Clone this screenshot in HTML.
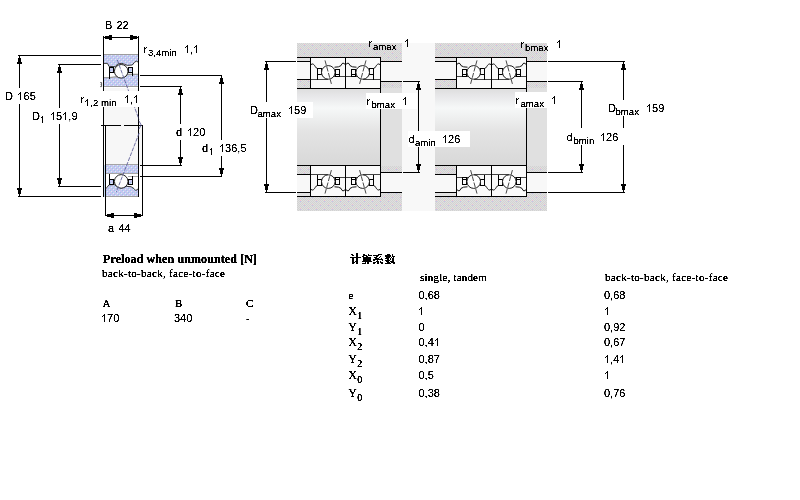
<!DOCTYPE html>
<html><head><meta charset="utf-8">
<style>
html,body{margin:0;padding:0;background:#fff;width:800px;height:500px;overflow:hidden}
svg{position:absolute;left:0;top:0}
.s{font-family:"Liberation Sans",sans-serif;font-size:11px;fill:#000}
.ss{font-family:"Liberation Sans",sans-serif;font-size:9.6px;fill:#000}
.t{font-family:"Liberation Serif",serif;font-size:11px;fill:#000}
.tb{font-family:"Liberation Serif",serif;font-size:12px;font-weight:bold;fill:#000}
</style></head><body>
<svg width="800" height="500" viewBox="0 0 800 500" shape-rendering="crispEdges">
<defs>
<pattern id="blue" width="4" height="4" patternUnits="userSpaceOnUse">
<rect width="4" height="4" fill="#c8c6f0"/><rect x="0" y="0" width="1" height="1" fill="#9cc8ec"/><rect x="2" y="2" width="1" height="1" fill="#9cc8ec"/><rect x="1" y="1" width="1" height="1" fill="#d8f4f4"/><rect x="3" y="3" width="1" height="1" fill="#d8f4f4"/>
</pattern>
<pattern id="gray" width="8" height="8" patternUnits="userSpaceOnUse">
<rect width="8" height="8" fill="#e0e0e0"/><path d="M0 0h1v1h-1zM2 0h1v1h-1zM4 0h1v1h-1zM6 0h1v1h-1zM1 1h1v1h-1zM3 1h1v1h-1zM5 1h1v1h-1zM7 1h1v1h-1zM0 2h1v1h-1zM2 2h1v1h-1zM4 2h1v1h-1zM6 2h1v1h-1zM1 3h1v1h-1zM3 3h1v1h-1zM5 3h1v1h-1zM7 3h1v1h-1zM0 4h1v1h-1zM2 4h1v1h-1zM4 4h1v1h-1zM6 4h1v1h-1zM1 5h1v1h-1zM3 5h1v1h-1zM5 5h1v1h-1zM7 5h1v1h-1zM0 6h1v1h-1zM2 6h1v1h-1zM4 6h1v1h-1zM6 6h1v1h-1zM1 7h1v1h-1zM3 7h1v1h-1zM5 7h1v1h-1zM7 7h1v1h-1z" fill="#d2d2d2"/>
<rect x="4" y="0" width="1" height="1" fill="#eec0c8"/><rect x="4" y="1" width="1" height="1" fill="#c4c4f0"/><rect x="0" y="4" width="1" height="1" fill="#eec0c8"/><rect x="0" y="5" width="1" height="1" fill="#c4c4f0"/>
</pattern>
<linearGradient id="shaft" x1="0" y1="0" x2="0" y2="1">
<stop offset="0" stop-color="#dedede"/><stop offset="0.08" stop-color="#e6e6e8"/><stop offset="0.25" stop-color="#f6f8f8"/><stop offset="0.55" stop-color="#e4e4e4"/><stop offset="1" stop-color="#d8d8d8"/>
</linearGradient>
<filter id="crisp" x="0" y="0" width="100%" height="100%" filterUnits="userSpaceOnUse" color-interpolation-filters="sRGB">
<feComponentTransfer><feFuncA type="linear" slope="3.5" intercept="-0.8"/></feComponentTransfer>
</filter>
<filter id="crisp2" x="0" y="0" width="100%" height="100%" filterUnits="userSpaceOnUse" color-interpolation-filters="sRGB">
<feComponentTransfer><feFuncA type="linear" slope="4" intercept="-0.6"/></feComponentTransfer>
</filter>
</defs>
<rect x="103" y="88" width="36" height="37" fill="#f7f7f7"/>
<rect x="105" y="125" width="38" height="40" fill="#f7f7f7"/>
<rect x="104" y="165" width="1" height="32" fill="#c8dcf0"/>
<rect x="18" y="55" width="83" height="1" fill="#000"/>
<rect x="18" y="196" width="83" height="1" fill="#000"/>
<rect x="19" y="56" width="1" height="140" fill="#000"/>
<path d="M19 56 h1 v2 h1 v4 h1 v2 h-5 v-2 h1 v-4 h1 z" fill="#000"/>
<path d="M19 196 h1 v-2 h1 v-4 h1 v-2 h-5 v2 h1 v4 h1 z" fill="#000"/>
<rect x="58" y="64" width="43" height="1" fill="#000"/>
<rect x="58" y="186" width="43" height="1" fill="#000"/>
<rect x="59" y="65" width="1" height="121" fill="#000"/>
<path d="M59 65 h1 v2 h1 v4 h1 v2 h-5 v-2 h1 v-4 h1 z" fill="#000"/>
<path d="M59 186 h1 v-2 h1 v-4 h1 v-2 h-5 v2 h1 v4 h1 z" fill="#000"/>
<rect x="103" y="36" width="1" height="55" fill="#000"/>
<rect x="138" y="36" width="1" height="55" fill="#000"/>
<rect x="104" y="37" width="34" height="1" fill="#000"/>
<path d="M104 37 h1 v-1 h4 v-1 h3 v5 h-3 v-1 h-4 v-1 h-1 z" fill="#000"/>
<path d="M138 37 h-1 v-1 h-4 v-1 h-3 v5 h3 v-1 h4 v-1 h1 z" fill="#000"/>
<rect x="140" y="75" width="82" height="1" fill="#000"/>
<rect x="140" y="86" width="42" height="1" fill="#000"/>
<rect x="140" y="165" width="42" height="1" fill="#000"/>
<rect x="140" y="176" width="82" height="1" fill="#000"/>
<rect x="180" y="87" width="1" height="78" fill="#000"/>
<rect x="221" y="76" width="1" height="100" fill="#000"/>
<path d="M180 87 h1 v2 h1 v4 h1 v2 h-5 v-2 h1 v-4 h1 z" fill="#000"/>
<path d="M180 165 h1 v-2 h1 v-4 h1 v-2 h-5 v2 h1 v4 h1 z" fill="#000"/>
<path d="M221 76 h1 v2 h1 v4 h1 v2 h-5 v-2 h1 v-4 h1 z" fill="#000"/>
<path d="M221 176 h1 v-2 h1 v-4 h1 v-2 h-5 v2 h1 v4 h1 z" fill="#000"/>
<rect x="103" y="107" width="1" height="90" fill="#000"/>
<rect x="105" y="125" width="1" height="91" fill="#000"/>
<rect x="138" y="107" width="1" height="90" fill="#000"/>
<rect x="142" y="125" width="1" height="91" fill="#000"/>
<rect x="101" y="125" width="20" height="1" fill="#000"/>
<rect x="124" y="125" width="19" height="1" fill="#000"/>
<rect x="106" y="215" width="36" height="1" fill="#000"/>
<path d="M106 215 h1 v-1 h4 v-1 h3 v5 h-3 v-1 h-4 v-1 h-1 z" fill="#000"/>
<path d="M142 215 h-1 v-1 h-4 v-1 h-3 v5 h3 v-1 h4 v-1 h1 z" fill="#000"/>
<polygon points="104,55 138,55 138,62 136.3,61.2 134.5,62.3 132.3,65 127.3,65.4 124.6,64.3 121.9,63.4 117.9,63.9 115.2,66.8 108.9,66.3 107.5,63.4 104,63.4" fill="url(#blue)"/>
<polyline points="104,63.4 107.5,63.4 108.9,66.3 115.2,66.8 117.9,63.9 121.9,63.4 124.6,64.3 127.3,65.4 132.3,65 134.5,62.3 136.3,61.2 138,62" fill="none" stroke="#222" stroke-width="0.9" shape-rendering="auto"/>
<rect x="104" y="54" width="34" height="1" fill="#9c9c9c"/>
<polygon points="104,77.6 109.5,77.6 117,76.6 121.5,77.4 126,75.6 128,74.4 138,74.4 138,87 104,87" fill="url(#blue)"/>
<polyline points="104,77.6 109.5,77.6 117,76.6 121.5,77.4 126,75.6 128,74.4 138,74.4" fill="none" stroke="#9a9a9a" stroke-width="1.2" shape-rendering="auto"/>
<rect x="104" y="86" width="34" height="1" fill="#9c9c9c"/>
<path d="M109.5 72 V78.5 M132.5 72 V75.5" stroke="#000" fill="none"/>
<rect x="109.5" y="67.5" width="4" height="5" fill="url(#blue)" stroke="#000"/>
<rect x="128.5" y="67.5" width="4" height="5" fill="url(#blue)" stroke="#000"/>
<circle cx="121.2" cy="71.3" r="6.8" fill="#fcfcfc" stroke="#222" stroke-width="1" shape-rendering="auto"/>
<rect x="106" y="165" width="32" height="9" fill="url(#blue)"/>
<rect x="106" y="164" width="32" height="1" fill="#a4a4a4"/>
<rect x="106" y="173" width="32" height="1" fill="#a4a4a4"/>
<polygon points="106,188.6 109,184.8 114.4,184.6 117,186.5 121.2,188.2 126.5,186.3 131,186.7 134,188.6 135.7,190.5 138,189 138,196 106,196" fill="url(#blue)"/>
<polyline points="106,188.6 109,184.8 114.4,184.6 117,186.5 121.2,188.2 126.5,186.3 131,186.7 134,188.6 135.7,190.5 138,189" fill="none" stroke="#222" stroke-width="0.9" shape-rendering="auto"/>
<rect x="106" y="196" width="32" height="1" fill="#9c9c9c"/>
<rect x="128" y="176" width="10" height="1" fill="#a8a8a8"/>
<path d="M109.5 174 V180 M132.5 176 V179.5" stroke="#000" fill="none"/>
<rect x="109.5" y="179.5" width="4" height="5" fill="url(#blue)" stroke="#000"/>
<rect x="128.5" y="179.5" width="4" height="5" fill="url(#blue)" stroke="#000"/>
<circle cx="121.2" cy="181.4" r="6.8" fill="#fcfcfc" stroke="#222" stroke-width="1" shape-rendering="auto"/>
<path d="M100.2 82.6 H101.6 V84.6 H100.6 M101.6 84.6 V86.6 H100.2" stroke="#333" stroke-width="0.8" fill="none" shape-rendering="auto"/>
<path d="M117.3 60 L139 119.5 M139.2 133 L116.3 192" stroke="#606098" stroke-width="0.9" stroke-dasharray="4 1.2" fill="none" shape-rendering="auto"/>
<path d="M139 121 L141.2 125 L139 129" stroke="#606098" stroke-width="0.9" fill="none" shape-rendering="auto"/>
<rect x="3" y="88" width="34" height="16" fill="#fff"/>
<rect x="31" y="108" width="48" height="16" fill="#fff"/>
<rect x="79" y="91" width="62" height="16" fill="#fff"/>
<rect x="172" y="124" width="36" height="16" fill="#fff"/>
<rect x="200" y="140" width="49" height="16" fill="#fff"/>
<rect x="297" y="43" width="250" height="168" fill="#f8f8f8"/>
<rect x="297" y="43" width="105" height="14" fill="url(#gray)"/>
<rect x="297" y="197" width="105" height="14" fill="url(#gray)"/>
<rect x="297" y="89" width="83" height="76" fill="url(#shaft)"/>
<rect x="297" y="58" width="13" height="3" fill="#e2e2e2"/>
<rect x="297" y="80" width="13" height="8" fill="url(#gray)"/>
<rect x="297" y="61" width="13" height="1" fill="#000"/>
<rect x="297" y="79" width="13" height="1" fill="#000"/>
<rect x="297" y="193" width="13" height="3" fill="#e2e2e2"/>
<rect x="297" y="166" width="13" height="8" fill="url(#gray)"/>
<rect x="297" y="192" width="13" height="1" fill="#000"/>
<rect x="297" y="174" width="13" height="1" fill="#000"/>
<rect x="381" y="57" width="21" height="4" fill="url(#gray)"/>
<rect x="381" y="82" width="21" height="90" fill="#e0e0e0"/>
<rect x="381" y="82" width="21" height="6" fill="url(#gray)"/>
<rect x="381" y="166" width="21" height="6" fill="url(#gray)"/>
<rect x="381" y="61" width="21" height="1" fill="#000"/>
<rect x="381" y="81" width="21" height="1" fill="#000"/>
<rect x="381" y="193" width="21" height="4" fill="url(#gray)"/>
<rect x="381" y="192" width="21" height="1" fill="#000"/>
<rect x="381" y="172" width="21" height="1" fill="#000"/>
<rect x="310" y="57" width="71" height="32" fill="#fafafa"/>
<rect x="310" y="165" width="71" height="32" fill="#fafafa"/>
<rect x="297" y="57" width="84" height="1" fill="#000"/>
<rect x="297" y="88" width="84" height="1" fill="#000"/>
<rect x="297" y="196" width="84" height="1" fill="#000"/>
<rect x="297" y="165" width="84" height="1" fill="#000"/>
<rect x="380" y="57" width="1" height="140" fill="#000"/>
<rect x="310" y="57" width="1" height="32" fill="#000"/>
<rect x="310" y="165" width="1" height="32" fill="#000"/>
<rect x="435" y="43" width="112" height="14" fill="url(#gray)"/>
<rect x="435" y="197" width="112" height="14" fill="url(#gray)"/>
<rect x="435" y="89" width="91" height="76" fill="url(#shaft)"/>
<rect x="435" y="58" width="21" height="3" fill="#e2e2e2"/>
<rect x="435" y="80" width="21" height="8" fill="url(#gray)"/>
<rect x="435" y="61" width="21" height="1" fill="#000"/>
<rect x="435" y="79" width="21" height="1" fill="#000"/>
<rect x="435" y="193" width="21" height="3" fill="#e2e2e2"/>
<rect x="435" y="166" width="21" height="8" fill="url(#gray)"/>
<rect x="435" y="192" width="21" height="1" fill="#000"/>
<rect x="435" y="174" width="21" height="1" fill="#000"/>
<rect x="527" y="57" width="20" height="4" fill="url(#gray)"/>
<rect x="527" y="82" width="20" height="90" fill="#e0e0e0"/>
<rect x="527" y="82" width="20" height="6" fill="url(#gray)"/>
<rect x="527" y="166" width="20" height="6" fill="url(#gray)"/>
<rect x="527" y="61" width="20" height="1" fill="#000"/>
<rect x="527" y="81" width="20" height="1" fill="#000"/>
<rect x="527" y="193" width="20" height="4" fill="url(#gray)"/>
<rect x="527" y="192" width="20" height="1" fill="#000"/>
<rect x="527" y="172" width="20" height="1" fill="#000"/>
<rect x="456" y="57" width="71" height="32" fill="#fafafa"/>
<rect x="456" y="165" width="71" height="32" fill="#fafafa"/>
<rect x="435" y="57" width="92" height="1" fill="#000"/>
<rect x="435" y="88" width="92" height="1" fill="#000"/>
<rect x="435" y="196" width="92" height="1" fill="#000"/>
<rect x="435" y="165" width="92" height="1" fill="#000"/>
<rect x="526" y="57" width="1" height="140" fill="#000"/>
<rect x="456" y="57" width="1" height="32" fill="#000"/>
<rect x="456" y="165" width="1" height="32" fill="#000"/>
<g transform="translate(310,57)"><path d="M0.5 0.5 V31.5 M0.5 0.5 H35.5 M0.5 31.5 H35.5" stroke="#000" fill="none"/><path d="M1 7.6 Q2.2 6.4 3.4 7.3 Q4.6 8.2 5.3 9.6 Q6.2 11.3 7.5 11.5 H12.3" stroke="#111" fill="none" shape-rendering="auto"/><path d="M24.5 10.2 Q29 10.3 31 8.6 Q32 6 33 6.1 Q34 6.3 35 7.3" stroke="#111" fill="none" shape-rendering="auto"/><path d="M1 22.5 H18 M22 19.5 H35" stroke="#444" fill="none"/><path d="M7.5 11.5 H11.5 V17.5 H7.5 Z M7.5 17.5 V22.5" stroke="#000" fill="none"/><path d="M25.5 12.5 H29.5 V19.5 H25.5 Z M25.5 17.5 H29.5" stroke="#000" fill="none"/><circle cx="18.3" cy="15.4" r="6.8" fill="#fff" stroke="#1a1a1a" shape-rendering="auto"/><path d="M15 3.4 L21.4 26.9" stroke="#333" stroke-width="0.9" stroke-dasharray="5 1.5" fill="none" shape-rendering="auto"/></g>
<g transform="translate(381,57) scale(-1,1)"><path d="M0.5 0.5 V31.5 M0.5 0.5 H35.5 M0.5 31.5 H35.5" stroke="#000" fill="none"/><path d="M1 7.6 Q2.2 6.4 3.4 7.3 Q4.6 8.2 5.3 9.6 Q6.2 11.3 7.5 11.5 H12.3" stroke="#111" fill="none" shape-rendering="auto"/><path d="M24.5 10.2 Q29 10.3 31 8.6 Q32 6 33 6.1 Q34 6.3 35 7.3" stroke="#111" fill="none" shape-rendering="auto"/><path d="M1 22.5 H18 M22 19.5 H35" stroke="#444" fill="none"/><path d="M7.5 11.5 H11.5 V17.5 H7.5 Z M7.5 17.5 V22.5" stroke="#000" fill="none"/><path d="M25.5 12.5 H29.5 V19.5 H25.5 Z M25.5 17.5 H29.5" stroke="#000" fill="none"/><circle cx="18.3" cy="15.4" r="6.8" fill="#fff" stroke="#1a1a1a" shape-rendering="auto"/><path d="M15 3.4 L21.4 26.9" stroke="#333" stroke-width="0.9" stroke-dasharray="5 1.5" fill="none" shape-rendering="auto"/></g>
<g transform="translate(310,197) scale(1,-1)"><path d="M0.5 0.5 V31.5 M0.5 0.5 H35.5 M0.5 31.5 H35.5" stroke="#000" fill="none"/><path d="M1 7.6 Q2.2 6.4 3.4 7.3 Q4.6 8.2 5.3 9.6 Q6.2 11.3 7.5 11.5 H12.3" stroke="#111" fill="none" shape-rendering="auto"/><path d="M24.5 10.2 Q29 10.3 31 8.6 Q32 6 33 6.1 Q34 6.3 35 7.3" stroke="#111" fill="none" shape-rendering="auto"/><path d="M1 22.5 H18 M22 19.5 H35" stroke="#444" fill="none"/><path d="M7.5 11.5 H11.5 V17.5 H7.5 Z M7.5 17.5 V22.5" stroke="#000" fill="none"/><path d="M25.5 12.5 H29.5 V19.5 H25.5 Z M25.5 17.5 H29.5" stroke="#000" fill="none"/><circle cx="18.3" cy="15.4" r="6.8" fill="#fff" stroke="#1a1a1a" shape-rendering="auto"/><path d="M15 3.4 L21.4 26.9" stroke="#333" stroke-width="0.9" stroke-dasharray="5 1.5" fill="none" shape-rendering="auto"/></g>
<g transform="translate(381,197) scale(-1,-1)"><path d="M0.5 0.5 V31.5 M0.5 0.5 H35.5 M0.5 31.5 H35.5" stroke="#000" fill="none"/><path d="M1 7.6 Q2.2 6.4 3.4 7.3 Q4.6 8.2 5.3 9.6 Q6.2 11.3 7.5 11.5 H12.3" stroke="#111" fill="none" shape-rendering="auto"/><path d="M24.5 10.2 Q29 10.3 31 8.6 Q32 6 33 6.1 Q34 6.3 35 7.3" stroke="#111" fill="none" shape-rendering="auto"/><path d="M1 22.5 H18 M22 19.5 H35" stroke="#444" fill="none"/><path d="M7.5 11.5 H11.5 V17.5 H7.5 Z M7.5 17.5 V22.5" stroke="#000" fill="none"/><path d="M25.5 12.5 H29.5 V19.5 H25.5 Z M25.5 17.5 H29.5" stroke="#000" fill="none"/><circle cx="18.3" cy="15.4" r="6.8" fill="#fff" stroke="#1a1a1a" shape-rendering="auto"/><path d="M15 3.4 L21.4 26.9" stroke="#333" stroke-width="0.9" stroke-dasharray="5 1.5" fill="none" shape-rendering="auto"/></g>
<g transform="translate(492,57) scale(-1,1)"><path d="M0.5 0.5 V31.5 M0.5 0.5 H35.5 M0.5 31.5 H35.5" stroke="#000" fill="none"/><path d="M1 7.6 Q2.2 6.4 3.4 7.3 Q4.6 8.2 5.3 9.6 Q6.2 11.3 7.5 11.5 H12.3" stroke="#111" fill="none" shape-rendering="auto"/><path d="M24.5 10.2 Q29 10.3 31 8.6 Q32 6 33 6.1 Q34 6.3 35 7.3" stroke="#111" fill="none" shape-rendering="auto"/><path d="M1 22.5 H18 M22 19.5 H35" stroke="#444" fill="none"/><path d="M7.5 11.5 H11.5 V17.5 H7.5 Z M7.5 17.5 V22.5" stroke="#000" fill="none"/><path d="M25.5 12.5 H29.5 V19.5 H25.5 Z M25.5 17.5 H29.5" stroke="#000" fill="none"/><circle cx="18.3" cy="15.4" r="6.8" fill="#fff" stroke="#1a1a1a" shape-rendering="auto"/><path d="M15 3.4 L21.4 26.9" stroke="#333" stroke-width="0.9" stroke-dasharray="5 1.5" fill="none" shape-rendering="auto"/></g>
<g transform="translate(491,57)"><path d="M0.5 0.5 V31.5 M0.5 0.5 H35.5 M0.5 31.5 H35.5" stroke="#000" fill="none"/><path d="M1 7.6 Q2.2 6.4 3.4 7.3 Q4.6 8.2 5.3 9.6 Q6.2 11.3 7.5 11.5 H12.3" stroke="#111" fill="none" shape-rendering="auto"/><path d="M24.5 10.2 Q29 10.3 31 8.6 Q32 6 33 6.1 Q34 6.3 35 7.3" stroke="#111" fill="none" shape-rendering="auto"/><path d="M1 22.5 H18 M22 19.5 H35" stroke="#444" fill="none"/><path d="M7.5 11.5 H11.5 V17.5 H7.5 Z M7.5 17.5 V22.5" stroke="#000" fill="none"/><path d="M25.5 12.5 H29.5 V19.5 H25.5 Z M25.5 17.5 H29.5" stroke="#000" fill="none"/><circle cx="18.3" cy="15.4" r="6.8" fill="#fff" stroke="#1a1a1a" shape-rendering="auto"/><path d="M15 3.4 L21.4 26.9" stroke="#333" stroke-width="0.9" stroke-dasharray="5 1.5" fill="none" shape-rendering="auto"/></g>
<g transform="translate(492,197) scale(-1,-1)"><path d="M0.5 0.5 V31.5 M0.5 0.5 H35.5 M0.5 31.5 H35.5" stroke="#000" fill="none"/><path d="M1 7.6 Q2.2 6.4 3.4 7.3 Q4.6 8.2 5.3 9.6 Q6.2 11.3 7.5 11.5 H12.3" stroke="#111" fill="none" shape-rendering="auto"/><path d="M24.5 10.2 Q29 10.3 31 8.6 Q32 6 33 6.1 Q34 6.3 35 7.3" stroke="#111" fill="none" shape-rendering="auto"/><path d="M1 22.5 H18 M22 19.5 H35" stroke="#444" fill="none"/><path d="M7.5 11.5 H11.5 V17.5 H7.5 Z M7.5 17.5 V22.5" stroke="#000" fill="none"/><path d="M25.5 12.5 H29.5 V19.5 H25.5 Z M25.5 17.5 H29.5" stroke="#000" fill="none"/><circle cx="18.3" cy="15.4" r="6.8" fill="#fff" stroke="#1a1a1a" shape-rendering="auto"/><path d="M15 3.4 L21.4 26.9" stroke="#333" stroke-width="0.9" stroke-dasharray="5 1.5" fill="none" shape-rendering="auto"/></g>
<g transform="translate(491,197) scale(1,-1)"><path d="M0.5 0.5 V31.5 M0.5 0.5 H35.5 M0.5 31.5 H35.5" stroke="#000" fill="none"/><path d="M1 7.6 Q2.2 6.4 3.4 7.3 Q4.6 8.2 5.3 9.6 Q6.2 11.3 7.5 11.5 H12.3" stroke="#111" fill="none" shape-rendering="auto"/><path d="M24.5 10.2 Q29 10.3 31 8.6 Q32 6 33 6.1 Q34 6.3 35 7.3" stroke="#111" fill="none" shape-rendering="auto"/><path d="M1 22.5 H18 M22 19.5 H35" stroke="#444" fill="none"/><path d="M7.5 11.5 H11.5 V17.5 H7.5 Z M7.5 17.5 V22.5" stroke="#000" fill="none"/><path d="M25.5 12.5 H29.5 V19.5 H25.5 Z M25.5 17.5 H29.5" stroke="#000" fill="none"/><circle cx="18.3" cy="15.4" r="6.8" fill="#fff" stroke="#1a1a1a" shape-rendering="auto"/><path d="M15 3.4 L21.4 26.9" stroke="#333" stroke-width="0.9" stroke-dasharray="5 1.5" fill="none" shape-rendering="auto"/></g>
<rect x="345" y="57" width="1" height="32" fill="#000"/>
<rect x="345" y="165" width="1" height="32" fill="#000"/>
<rect x="491" y="57" width="1" height="32" fill="#000"/>
<rect x="491" y="165" width="1" height="32" fill="#000"/>
<rect x="265" y="61" width="31" height="1" fill="#000"/>
<rect x="265" y="192" width="31" height="1" fill="#000"/>
<rect x="266" y="62" width="1" height="130" fill="#000"/>
<path d="M266 62 h1 v2 h1 v4 h1 v2 h-5 v-2 h1 v-4 h1 z" fill="#000"/>
<path d="M266 192 h1 v-2 h1 v-4 h1 v-2 h-5 v2 h1 v4 h1 z" fill="#000"/>
<rect x="403" y="81" width="17" height="1" fill="#000"/>
<rect x="403" y="172" width="17" height="1" fill="#000"/>
<rect x="418" y="82" width="1" height="90" fill="#000"/>
<path d="M418 82 h1 v2 h1 v4 h1 v2 h-5 v-2 h1 v-4 h1 z" fill="#000"/>
<path d="M418 172 h1 v-2 h1 v-4 h1 v-2 h-5 v2 h1 v4 h1 z" fill="#000"/>
<rect x="548" y="61" width="77" height="1" fill="#000"/>
<rect x="548" y="192" width="77" height="1" fill="#000"/>
<rect x="623" y="62" width="1" height="130" fill="#000"/>
<path d="M623 62 h1 v2 h1 v4 h1 v2 h-5 v-2 h1 v-4 h1 z" fill="#000"/>
<path d="M623 192 h1 v-2 h1 v-4 h1 v-2 h-5 v2 h1 v4 h1 z" fill="#000"/>
<rect x="548" y="81" width="35" height="1" fill="#000"/>
<rect x="548" y="172" width="35" height="1" fill="#000"/>
<rect x="581" y="82" width="1" height="90" fill="#000"/>
<path d="M581 82 h1 v2 h1 v4 h1 v2 h-5 v-2 h1 v-4 h1 z" fill="#000"/>
<path d="M581 172 h1 v-2 h1 v-4 h1 v-2 h-5 v2 h1 v4 h1 z" fill="#000"/>
<rect x="366" y="93" width="51" height="16" fill="#fff"/>
<rect x="249" y="102" width="64" height="16" fill="#fff"/>
<rect x="408" y="131" width="62" height="16" fill="#fff"/>
<rect x="515" y="92" width="45" height="16" fill="#fff"/>
<rect x="606" y="100" width="62" height="16" fill="#fff"/>
<rect x="565" y="128" width="60" height="17" fill="#fff"/>
<rect x="356" y="253" width="2" height="1" fill="#000"/>
<rect x="351" y="254" width="2" height="1" fill="#000"/>
<rect x="356" y="254" width="2" height="1" fill="#000"/>
<rect x="352" y="255" width="2" height="1" fill="#000"/>
<rect x="356" y="255" width="2" height="1" fill="#000"/>
<rect x="356" y="256" width="2" height="1" fill="#000"/>
<rect x="350" y="257" width="11" height="1" fill="#000"/>
<rect x="352" y="258" width="2" height="1" fill="#000"/>
<rect x="356" y="258" width="2" height="1" fill="#000"/>
<rect x="352" y="259" width="2" height="1" fill="#000"/>
<rect x="356" y="259" width="2" height="1" fill="#000"/>
<rect x="352" y="260" width="2" height="1" fill="#000"/>
<rect x="356" y="260" width="2" height="1" fill="#000"/>
<rect x="352" y="261" width="2" height="1" fill="#000"/>
<rect x="355" y="261" width="3" height="1" fill="#000"/>
<rect x="352" y="262" width="3" height="1" fill="#000"/>
<rect x="356" y="262" width="2" height="1" fill="#000"/>
<rect x="352" y="263" width="2" height="1" fill="#000"/>
<rect x="356" y="263" width="2" height="1" fill="#000"/>
<rect x="363" y="254" width="2" height="1" fill="#000"/>
<rect x="368" y="254" width="1" height="1" fill="#000"/>
<rect x="363" y="255" width="4" height="1" fill="#000"/>
<rect x="368" y="255" width="4" height="1" fill="#000"/>
<rect x="362" y="256" width="2" height="1" fill="#000"/>
<rect x="366" y="256" width="2" height="1" fill="#000"/>
<rect x="363" y="257" width="8" height="1" fill="#000"/>
<rect x="363" y="258" width="8" height="1" fill="#000"/>
<rect x="363" y="259" width="8" height="1" fill="#000"/>
<rect x="363" y="260" width="8" height="1" fill="#000"/>
<rect x="362" y="261" width="10" height="1" fill="#000"/>
<rect x="365" y="262" width="1" height="1" fill="#000"/>
<rect x="367" y="262" width="2" height="1" fill="#000"/>
<rect x="362" y="263" width="4" height="1" fill="#000"/>
<rect x="367" y="263" width="2" height="1" fill="#000"/>
<rect x="378" y="254" width="4" height="1" fill="#000"/>
<rect x="373" y="255" width="6" height="1" fill="#000"/>
<rect x="376" y="256" width="2" height="1" fill="#000"/>
<rect x="380" y="256" width="1" height="1" fill="#000"/>
<rect x="374" y="257" width="3" height="1" fill="#000"/>
<rect x="379" y="257" width="1" height="1" fill="#000"/>
<rect x="375" y="258" width="4" height="1" fill="#000"/>
<rect x="381" y="258" width="1" height="1" fill="#000"/>
<rect x="373" y="259" width="10" height="1" fill="#000"/>
<rect x="373" y="260" width="2" height="1" fill="#000"/>
<rect x="377" y="260" width="1" height="1" fill="#000"/>
<rect x="382" y="260" width="1" height="1" fill="#000"/>
<rect x="376" y="261" width="3" height="1" fill="#000"/>
<rect x="380" y="261" width="1" height="1" fill="#000"/>
<rect x="373" y="262" width="3" height="1" fill="#000"/>
<rect x="377" y="262" width="2" height="1" fill="#000"/>
<rect x="380" y="262" width="3" height="1" fill="#000"/>
<rect x="373" y="263" width="2" height="1" fill="#000"/>
<rect x="377" y="263" width="2" height="1" fill="#000"/>
<rect x="381" y="263" width="2" height="1" fill="#000"/>
<rect x="387" y="254" width="3" height="1" fill="#000"/>
<rect x="392" y="254" width="1" height="1" fill="#000"/>
<rect x="385" y="255" width="6" height="1" fill="#000"/>
<rect x="392" y="255" width="1" height="1" fill="#000"/>
<rect x="385" y="256" width="6" height="1" fill="#000"/>
<rect x="392" y="256" width="3" height="1" fill="#000"/>
<rect x="386" y="257" width="4" height="1" fill="#000"/>
<rect x="391" y="257" width="1" height="1" fill="#000"/>
<rect x="393" y="257" width="1" height="1" fill="#000"/>
<rect x="385" y="258" width="4" height="1" fill="#000"/>
<rect x="390" y="258" width="1" height="1" fill="#000"/>
<rect x="392" y="258" width="2" height="1" fill="#000"/>
<rect x="387" y="259" width="2" height="1" fill="#000"/>
<rect x="390" y="259" width="1" height="1" fill="#000"/>
<rect x="392" y="259" width="2" height="1" fill="#000"/>
<rect x="385" y="260" width="5" height="1" fill="#000"/>
<rect x="392" y="260" width="2" height="1" fill="#000"/>
<rect x="386" y="261" width="3" height="1" fill="#000"/>
<rect x="390" y="261" width="4" height="1" fill="#000"/>
<rect x="387" y="262" width="3" height="1" fill="#000"/>
<rect x="391" y="262" width="4" height="1" fill="#000"/>
<rect x="385" y="263" width="6" height="1" fill="#000"/>
<rect x="393" y="263" width="2" height="1" fill="#000"/>
<g filter="url(#crisp)"><text x="105" y="29" class="s">B</text>
<text x="116.5" y="29" class="s">22</text>
<text x="148" y="56" class="ss">3,4min</text>
<text id="t1_0" x="184" y="53" class="s">&#x2007;,&#x2007;</text>
<text x="5" y="100" class="s">D</text>
<text id="t1_1" x="17.5" y="100" class="s">&#x2007;65</text>
<text x="32" y="120" class="s">D</text>
<text id="t1_2" x="39" y="123" class="s">&#x2007;</text>
<text id="t1_3" x="50" y="120" class="s">&#x2007;5&#x2007;,9</text>
<text id="t1_4" x="85" y="106" class="ss">&#x2007;,2 min</text>
<text id="t1_5" x="124" y="103" class="s">&#x2007;,&#x2007;</text>
<text x="176" y="136" class="s">d</text>
<text id="t1_6" x="187" y="136" class="s">&#x2007;20</text>
<text x="202" y="152" class="s">d</text>
<text id="t1_7" x="207.8" y="154.5" class="s">&#x2007;</text>
<text id="t1_8" x="219" y="152" class="s">&#x2007;36,5</text>
<text x="108" y="232" class="s">a</text>
<text x="118.5" y="232" class="s">44</text>
<text x="373" y="49.6" class="ss">amax</text>
<text id="t1_9" x="404" y="46.6" class="s">&#x2007;</text>
<text x="371.5" y="108" class="ss">bmax</text>
<text id="t1_10" x="402" y="104.5" class="s">&#x2007;</text>
<text x="250" y="113.5" class="s">D</text>
<text x="257.5" y="116.5" class="ss">amax</text>
<text id="t1_11" x="288" y="114" class="s">&#x2007;59</text>
<text x="408.5" y="142.5" class="s">d</text>
<text x="415" y="146" class="ss">amin</text>
<text id="t1_12" x="442" y="142.5" class="s">&#x2007;26</text>
<text x="525" y="50.8" class="ss">bmax</text>
<text id="t1_13" x="556" y="47.7" class="s">&#x2007;</text>
<text x="520.5" y="106.6" class="ss">amax</text>
<text id="t1_14" x="551" y="103.5" class="s">&#x2007;</text>
<text x="608" y="111.5" class="s">D</text>
<text x="615.5" y="114.5" class="ss">bmax</text>
<text id="t1_15" x="646" y="112" class="s">&#x2007;59</text>
<text x="566.5" y="141" class="s">d</text>
<text x="573.5" y="144" class="ss">bmin</text>
<text id="t1_16" x="600" y="141" class="s">&#x2007;26</text>
<text id="t1_17" x="101" y="322" class="s">&#x2007;70</text>
<text x="174" y="322" class="s">340</text>
<text x="246" y="322" class="s">-</text>
<text x="418.5" y="299.3" class="s">0,68</text>
<text x="604" y="299.3" class="s">0,68</text>
<text id="t1_18" x="418.5" y="315.3" class="s">&#x2007;</text>
<text id="t1_19" x="604" y="315.3" class="s">&#x2007;</text>
<text x="418.5" y="331.3" class="s">0</text>
<text x="604" y="331.3" class="s">0,92</text>
<text id="t1_20" x="418.5" y="346.3" class="s">0,4&#x2007;</text>
<text x="604" y="346.3" class="s">0,67</text>
<text x="418.5" y="363.3" class="s">0,87</text>
<text id="t1_21" x="604" y="363.3" class="s">&#x2007;,4&#x2007;</text>
<text x="418.5" y="379.3" class="s">0,5</text>
<text id="t1_22" x="604" y="379.3" class="s">&#x2007;</text>
<text x="418.5" y="397.3" class="s">0,38</text>
<text x="604" y="397.3" class="s">0,76</text></g>
<g filter="url(#crisp2)"><text x="103" y="263.3" class="tb" letter-spacing="0.1">Preload when unmounted [N]</text>
<text x="102" y="276.7" class="t" letter-spacing="0.3">back-to-back, face-to-face</text>
<text x="102.5" y="306.6" class="t">A</text>
<text x="175" y="306.6" class="t">B</text>
<text x="246" y="306.6" class="t">C</text>
<text x="420" y="281" class="t" letter-spacing="0.2">single, tandem</text>
<text x="605" y="280.8" class="t" letter-spacing="0.3">back-to-back, face-to-face</text>
<text x="348.5" y="299.30" class="t">e</text>
<text x="348.3" y="315.30" class="t" style="font-size:12px">X</text>
<text x="357.3" y="319.10" class="t" style="font-size:10px">1</text>
<text x="348.3" y="331.30" class="t" style="font-size:12px">Y</text>
<text x="357.3" y="335.10" class="t" style="font-size:10px">1</text>
<text x="348.3" y="346.30" class="t" style="font-size:12px">X</text>
<text x="357.3" y="350.10" class="t" style="font-size:10px">2</text>
<text x="348.3" y="363.30" class="t" style="font-size:12px">Y</text>
<text x="357.3" y="367.10" class="t" style="font-size:10px">2</text>
<text x="348.3" y="379.30" class="t" style="font-size:12px">X</text>
<text x="357.3" y="383.10" class="t" style="font-size:10px">0</text>
<text x="348.3" y="397.30" class="t" style="font-size:12px">Y</text>
<text x="357.3" y="401.10" class="t" style="font-size:10px">0</text></g>
<rect x="187" y="45" width="1" height="8" fill="#000"/><rect x="186" y="46" width="1" height="1" fill="#000"/><rect x="185" y="47" width="1" height="1" fill="#000"/>
<rect x="196" y="45" width="1" height="8" fill="#000"/><rect x="195" y="46" width="1" height="1" fill="#000"/><rect x="194" y="47" width="1" height="1" fill="#000"/>
<rect x="20" y="92" width="1" height="8" fill="#000"/><rect x="19" y="93" width="1" height="1" fill="#000"/><rect x="18" y="94" width="1" height="1" fill="#000"/>
<rect x="42" y="116" width="1" height="7" fill="#000"/><rect x="41" y="117" width="1" height="1" fill="#000"/>
<rect x="53" y="112" width="1" height="8" fill="#000"/><rect x="52" y="113" width="1" height="1" fill="#000"/><rect x="51" y="114" width="1" height="1" fill="#000"/>
<rect x="65" y="112" width="1" height="8" fill="#000"/><rect x="64" y="113" width="1" height="1" fill="#000"/><rect x="63" y="114" width="1" height="1" fill="#000"/>
<rect x="87" y="99" width="1" height="7" fill="#000"/><rect x="86" y="100" width="1" height="1" fill="#000"/><rect x="85" y="101" width="1" height="1" fill="#000"/>
<rect x="127" y="95" width="1" height="8" fill="#000"/><rect x="126" y="96" width="1" height="1" fill="#000"/><rect x="125" y="97" width="1" height="1" fill="#000"/>
<rect x="136" y="95" width="1" height="8" fill="#000"/><rect x="135" y="96" width="1" height="1" fill="#000"/><rect x="134" y="97" width="1" height="1" fill="#000"/>
<rect x="190" y="128" width="1" height="8" fill="#000"/><rect x="189" y="129" width="1" height="1" fill="#000"/><rect x="188" y="130" width="1" height="1" fill="#000"/>
<rect x="211" y="148" width="1" height="7" fill="#000"/><rect x="210" y="149" width="1" height="1" fill="#000"/>
<rect x="222" y="144" width="1" height="8" fill="#000"/><rect x="221" y="145" width="1" height="1" fill="#000"/><rect x="220" y="146" width="1" height="1" fill="#000"/>
<rect x="407" y="39" width="1" height="8" fill="#000"/><rect x="406" y="40" width="1" height="1" fill="#000"/><rect x="405" y="41" width="1" height="1" fill="#000"/>
<rect x="405" y="97" width="1" height="8" fill="#000"/><rect x="404" y="98" width="1" height="1" fill="#000"/><rect x="403" y="99" width="1" height="1" fill="#000"/>
<rect x="291" y="106" width="1" height="8" fill="#000"/><rect x="290" y="107" width="1" height="1" fill="#000"/><rect x="289" y="108" width="1" height="1" fill="#000"/>
<rect x="445" y="135" width="1" height="8" fill="#000"/><rect x="444" y="136" width="1" height="1" fill="#000"/><rect x="443" y="137" width="1" height="1" fill="#000"/>
<rect x="559" y="40" width="1" height="8" fill="#000"/><rect x="558" y="41" width="1" height="1" fill="#000"/><rect x="557" y="42" width="1" height="1" fill="#000"/>
<rect x="554" y="96" width="1" height="8" fill="#000"/><rect x="553" y="97" width="1" height="1" fill="#000"/><rect x="552" y="98" width="1" height="1" fill="#000"/>
<rect x="649" y="104" width="1" height="8" fill="#000"/><rect x="648" y="105" width="1" height="1" fill="#000"/><rect x="647" y="106" width="1" height="1" fill="#000"/>
<rect x="603" y="133" width="1" height="8" fill="#000"/><rect x="602" y="134" width="1" height="1" fill="#000"/><rect x="601" y="135" width="1" height="1" fill="#000"/>
<rect x="104" y="314" width="1" height="8" fill="#000"/><rect x="103" y="315" width="1" height="1" fill="#000"/><rect x="102" y="316" width="1" height="1" fill="#000"/>
<rect x="421" y="307" width="1" height="8" fill="#000"/><rect x="420" y="308" width="1" height="1" fill="#000"/><rect x="419" y="309" width="1" height="1" fill="#000"/>
<rect x="607" y="307" width="1" height="8" fill="#000"/><rect x="606" y="308" width="1" height="1" fill="#000"/><rect x="605" y="309" width="1" height="1" fill="#000"/>
<rect x="437" y="338" width="1" height="8" fill="#000"/><rect x="436" y="339" width="1" height="1" fill="#000"/><rect x="435" y="340" width="1" height="1" fill="#000"/>
<rect x="607" y="355" width="1" height="8" fill="#000"/><rect x="606" y="356" width="1" height="1" fill="#000"/><rect x="605" y="357" width="1" height="1" fill="#000"/>
<rect x="622" y="355" width="1" height="8" fill="#000"/><rect x="621" y="356" width="1" height="1" fill="#000"/><rect x="620" y="357" width="1" height="1" fill="#000"/>
<rect x="607" y="371" width="1" height="8" fill="#000"/><rect x="606" y="372" width="1" height="1" fill="#000"/><rect x="605" y="373" width="1" height="1" fill="#000"/><rect x="144" y="47" width="1" height="6" fill="#000"/><rect x="145" y="48" width="1" height="1" fill="#000"/><rect x="146" y="47" width="1" height="1" fill="#000"/>
<rect x="81" y="97" width="1" height="6" fill="#000"/><rect x="82" y="98" width="1" height="1" fill="#000"/><rect x="83" y="97" width="1" height="1" fill="#000"/>
<rect x="369" y="41" width="1" height="6" fill="#000"/><rect x="370" y="42" width="1" height="1" fill="#000"/><rect x="371" y="41" width="1" height="1" fill="#000"/>
<rect x="367" y="99" width="1" height="6" fill="#000"/><rect x="368" y="100" width="1" height="1" fill="#000"/><rect x="369" y="99" width="1" height="1" fill="#000"/>
<rect x="521" y="42" width="1" height="6" fill="#000"/><rect x="522" y="43" width="1" height="1" fill="#000"/><rect x="523" y="42" width="1" height="1" fill="#000"/>
<rect x="516" y="98" width="1" height="6" fill="#000"/><rect x="517" y="99" width="1" height="1" fill="#000"/><rect x="518" y="98" width="1" height="1" fill="#000"/>
</svg>
</body></html>
